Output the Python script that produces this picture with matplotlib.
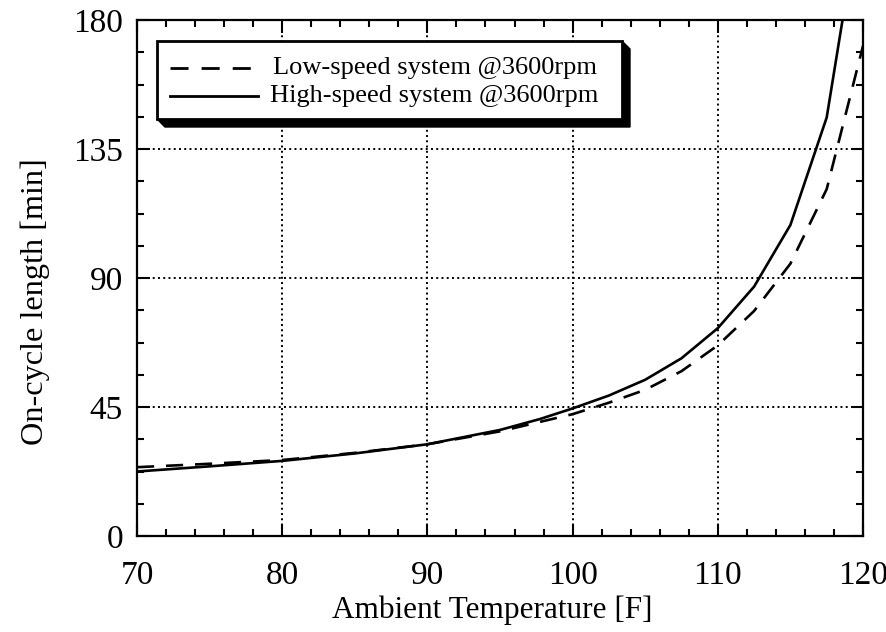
import matplotlib
matplotlib.use("Agg")
import matplotlib.pyplot as plt
from matplotlib.patches import Rectangle, Polygon
from matplotlib.lines import Line2D
from matplotlib.ticker import MultipleLocator

# Data
temp_low = [70, 75, 80, 85, 90, 95, 100, 102.5, 105, 107.5, 110, 112.5, 115, 117.5, 120]
low_speed = [24, 25.2, 26.5, 29, 32, 36.5, 42.5, 46.5, 51, 57.5, 66.5, 78.5, 95, 121, 171]

temp_high = [70, 75, 80, 85, 90, 95, 97.75, 100, 102.5, 105, 107.5, 110, 112.5, 115, 117.5, 120]
high_speed = [22.5, 24.3, 26.2, 28.8, 32, 37, 40.8, 44.5, 49, 54.5, 62, 72.5, 87, 108.5, 146, 224]

x_ticks = [70, 80, 90, 100, 110, 120]
y_ticks = [0, 45, 90, 135, 180]
labels = ["Low-speed system @3600rpm", "High-speed system @3600rpm"]

plt.rcParams['font.family'] = ['Liberation Serif', 'DejaVu Serif']

W, H = 887, 632
fig = plt.figure(figsize=(W / 100, H / 100), dpi=100)
ax = fig.add_axes([137 / W, 1 - 536 / H, 726 / W, 516 / H])

ax.plot(temp_low, low_speed, color='black', lw=1.9, dashes=(6.5, 4.5), zorder=3)
ax.plot(temp_high, high_speed, color='black', lw=1.9, zorder=3)

ax.set_xlim(70, 120)
ax.set_ylim(0, 180)
ax.set_xticks(x_ticks)
ax.set_yticks(y_ticks)
ax.xaxis.set_minor_locator(MultipleLocator(2))
ax.yaxis.set_minor_locator(MultipleLocator(11.25))
ax.tick_params(which='both', direction='in', top=True, right=True, width=1.5, colors='black')
ax.tick_params(which='major', length=9, labelsize=24)
ax.tick_params(axis='x', which='major', pad=18)
ax.tick_params(axis='y', which='major', pad=10)
ax.tick_params(which='minor', length=5)
ax.grid(True, which='major', color='black', linestyle=(0, (1, 1.7)), linewidth=1.4)
for s in ax.spines.values():
    s.set_linewidth(1.6)

ax.set_xlabel("Ambient Temperature [F]", fontsize=22.5, labelpad=3)
ax.set_ylabel("On-cycle length [min]", fontsize=23.2, labelpad=17)
ax.xaxis.label.set_x(0.49)
ax.yaxis.label.set_y(0.455)

# Legend box with heavy shadow (pixel coordinates, top-origin)
def fx(px):
    return px / W

def fy(py):
    return 1 - py / H

bx0, by0, bx1, by1 = 157, 41, 622, 119
off = 8
shadow = Polygon([(fx(bx0), fy(by1)), (fx(bx0 + off), fy(by1 + off)), (fx(bx1 + off), fy(by1 + off)),
                  (fx(bx1 + off), fy(by0 + off)), (fx(bx1), fy(by0)), (fx(bx1), fy(by1))],
                 closed=True, transform=fig.transFigure, facecolor='black', edgecolor='black',
                 zorder=4)
box = Rectangle((fx(bx0), fy(by1)), fx(bx1) - fx(bx0), fy(by0) - fy(by1),
                transform=fig.transFigure, facecolor='white', edgecolor='black', lw=2, zorder=5)
fig.add_artist(shadow)
fig.add_artist(box)

rows = [68, 96]
text_x = [273, 270]
styles = [dict(dashes=(6.5, 4.7)), dict()]
for r, tx, st, lab in zip(rows, text_x, styles, labels):
    ln = Line2D([fx(170), fx(258)], [fy(r), fy(r)], transform=fig.transFigure, color='black', lw=2,
                zorder=6, **st)
    fig.add_artist(ln)
    fig.text(fx(tx), fy(r), lab, fontsize=19, va='center', ha='left', zorder=6)

fig.savefig("out.png", dpi=100)
